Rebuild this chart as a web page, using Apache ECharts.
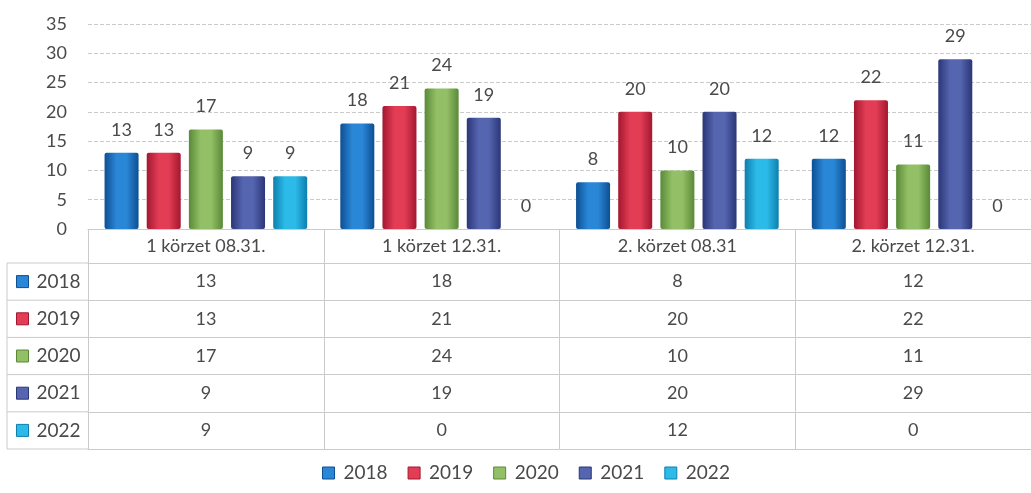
<!DOCTYPE html>
<html>
<head>
<meta charset="utf-8">
<script src="https://cdn.jsdelivr.net/npm/echarts@6/dist/echarts.min.js"></script>
<style>
  html, body { margin: 0; padding: 0; background: #fff; }
  #chart { width: 1031px; height: 493px; }
</style>
</head>
<body>
<div id="chart"></div>
<script>
var categories = ['1 körzet 08.31.', '1 körzet 12.31.', '2. körzet 08.31', '2. körzet 12.31.'];
var years = ['2018', '2019', '2020', '2021', '2022'];
var v2018 = [13, 18, 8, 12];
var v2019 = [13, 21, 20, 22];
var v2020 = [17, 24, 10, 11];
var v2021 = [9, 19, 20, 29];
var v2022 = [9, 0, 12, 0];
var yTicks = { min: 0, max: 35, interval: 5 };

var values = [v2018, v2019, v2020, v2021, v2022];
// edge / centre colours for the glassy bars
var colours = [
    ['#0d4f93', '#2a86d6'],
    ['#a3172f', '#e23d55'],
    ['#5a8a38', '#93c066'],
    ['#2b3677', '#5565b0'],
    ['#0e7fae', '#2cbbe8']
];

var FONT = 'Lato';
var TEXT = '#4a4a4a';
var LINE = '#cbcbcb';
var gridTop = 24, gridH = 205, gridLeft = 88, gridW = 956;
var headerH = 34, rowH = 37.2;

function barColour(c) {
    return new echarts.graphic.LinearGradient(0, 0, 1, 0, [
        {offset: 0, color: c[0]},
        {offset: 0.35, color: c[1]},
        {offset: 0.65, color: c[1]},
        {offset: 1, color: c[0]}
    ]);
}

var series = [];
var legendData = [];
for (var i = 0; i < years.length; i++) {
    series.push({
        name: years[i],
        type: 'bar',
        data: values[i],
        barWidth: 34,
        barGap: '24%',
        itemStyle: {color: barColour(colours[i]), borderRadius: 2},
        label: {
            show: true, position: 'top', distance: 14,
            fontFamily: FONT, fontSize: 18, color: TEXT
        }
    });
    legendData.push({name: years[i], itemStyle: {color: colours[i][1], borderColor: colours[i][0], borderWidth: 1}});
}

// category header axis + one axis per table row
var xAxes = [{
    type: 'category', data: categories, gridIndex: 0, position: 'bottom',
    axisLine: {show: true, lineStyle: {color: LINE}},
    axisTick: {show: true, length: headerH, lineStyle: {color: LINE}},
    axisLabel: {fontFamily: FONT, fontSize: 18, color: TEXT, margin: headerH / 2, verticalAlign: 'middle'}
}];
for (var r = 0; r < years.length; r++) {
    xAxes.push({
        type: 'category', data: values[r].map(String), gridIndex: 0, position: 'bottom',
        offset: headerH + rowH * r,
        axisLine: {show: true, lineStyle: {color: LINE}},
        axisTick: {show: true, length: rowH, lineStyle: {color: LINE}},
        axisLabel: {fontFamily: FONT, fontSize: 18, color: TEXT, margin: rowH / 2, verticalAlign: 'middle'}
    });
}
xAxes.push({
    type: 'category', data: categories, gridIndex: 0, position: 'bottom',
    offset: headerH + rowH * years.length,
    axisLine: {show: true, lineStyle: {color: LINE}},
    axisTick: {show: false}, axisLabel: {show: false}
});

// left column borders of the data table
var tableTop = gridTop + gridH + headerH;
var tableBottom = tableTop + rowH * years.length;
var graphics = [{
    type: 'line', shape: {x1: 7, y1: tableTop, x2: 7, y2: tableBottom},
    style: {stroke: LINE, lineWidth: 1}
}];
for (var k = 0; k <= years.length; k++) {
    graphics.push({
        type: 'line', shape: {x1: 7, y1: tableTop + rowH * k, x2: gridLeft, y2: tableTop + rowH * k},
        style: {stroke: LINE, lineWidth: 1}
    });
}

var chart = echarts.init(document.getElementById('chart'));
chart.setOption({
    backgroundColor: '#fff',
    animation: false,
    grid: {left: gridLeft, top: gridTop, width: gridW, height: gridH},
    legend: [{
        data: legendData, orient: 'vertical', left: 16, top: tableTop + rowH / 2 - 11, padding: 0,
        itemWidth: 12, itemHeight: 12, itemGap: rowH - 22, icon: 'rect',
        textStyle: {fontFamily: FONT, fontSize: 19, lineHeight: 22, color: TEXT, padding: [0, 0, 0, 3]}
    }, {
        data: legendData, orient: 'horizontal', left: 322, top: 463, padding: 0,
        itemWidth: 12, itemHeight: 12, itemGap: 20, icon: 'rect',
        textStyle: {fontFamily: FONT, fontSize: 19, lineHeight: 20, color: TEXT, padding: [0, 0, 0, 4]}
    }],
    xAxis: xAxes,
    yAxis: {
        type: 'value', min: yTicks.min, max: yTicks.max, interval: yTicks.interval,
        axisLine: {show: false}, axisTick: {show: false},
        axisLabel: {fontFamily: FONT, fontSize: 18, color: TEXT, margin: 21},
        splitLine: {lineStyle: {color: LINE, type: 'dashed'}}
    },
    graphic: graphics,
    series: series
});
</script>
</body>
</html>
